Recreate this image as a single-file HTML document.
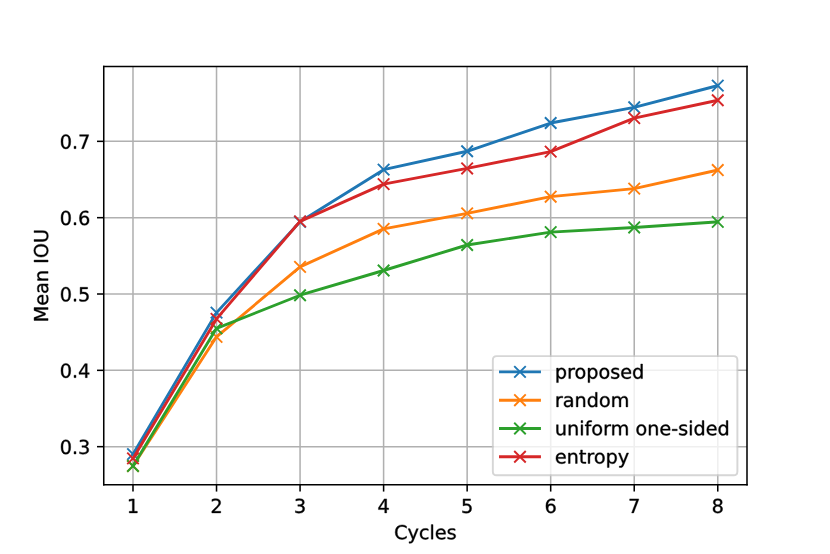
<!DOCTYPE html>
<html><head><meta charset="utf-8"><title>Mean IOU vs Cycles</title>
<style>html,body{margin:0;padding:0;background:#fff;overflow:hidden;font-family:"Liberation Sans",sans-serif}svg{display:block}g[id^="text_"]{stroke:#000;stroke-width:0.4px}
path[id^="DejaVuSans"]{vector-effect:non-scaling-stroke}
</style>
</head><body>
<svg width="830" height="554" viewBox="0 0 432 288.346988">
<defs>
<style type="text/css">*{stroke-linejoin: round; stroke-linecap: butt}</style>
</defs>
<g id="figure_1">
<g id="patch_1">
<path d="M 0 288.346988 L 432 288.346988 L 432 0 L 0 0 z
" style="fill: #ffffff"/>
</g>
<g id="axes_1">
<g id="patch_2">
<path d="M 54 252.355663 L 388.8 252.355663 L 388.8 34.586024 L 54 34.586024 z
" style="fill: #ffffff"/>
</g>
<g id="matplotlib.axis_1">
<g id="xtick_1">
<g id="line2d_1">
<path d="M 69.218182 252.355663 L 69.218182 34.586024 " clip-path="url(#pa75e40f9cf)" style="fill: none; stroke: #b0b0b0; stroke-width: 0.8; stroke-linecap: square"/>
</g>
<g id="line2d_2">
<defs>
<path id="m1504cfccaf" d="M 0 0 L 0 3.5 " style="stroke: #000000; stroke-width: 0.8"/>
</defs>
<g>
<use href="#m1504cfccaf" x="69.218182" y="252.355663" style="stroke: #000000; stroke-width: 0.8"/>
</g>
</g>
<g id="text_1">
<!-- 1 -->
<g transform="translate(66.036932 266.9541) scale(0.1 -0.1)">
<defs>
<path id="DejaVuSans-31" d="M 794 531 L 1825 531 L 1825 4091 L 703 3866 L 703 4441 L 1819 4666 L 2450 4666 L 2450 531 L 3481 531 L 3481 0 L 794 0 L 794 531 z
" transform="scale(0.015625)"/>
</defs>
<use href="#DejaVuSans-31"/>
</g>
</g>
</g>
<g id="xtick_2">
<g id="line2d_3">
<path d="M 112.698701 252.355663 L 112.698701 34.586024 " clip-path="url(#pa75e40f9cf)" style="fill: none; stroke: #b0b0b0; stroke-width: 0.8; stroke-linecap: square"/>
</g>
<g id="line2d_4">
<g>
<use href="#m1504cfccaf" x="112.698701" y="252.355663" style="stroke: #000000; stroke-width: 0.8"/>
</g>
</g>
<g id="text_2">
<!-- 2 -->
<g transform="translate(109.517451 266.9541) scale(0.1 -0.1)">
<defs>
<path id="DejaVuSans-32" d="M 1228 531 L 3431 531 L 3431 0 L 469 0 L 469 531 Q 828 903 1448 1529 Q 2069 2156 2228 2338 Q 2531 2678 2651 2914 Q 2772 3150 2772 3378 Q 2772 3750 2511 3984 Q 2250 4219 1831 4219 Q 1534 4219 1204 4116 Q 875 4013 500 3803 L 500 4441 Q 881 4594 1212 4672 Q 1544 4750 1819 4750 Q 2544 4750 2975 4387 Q 3406 4025 3406 3419 Q 3406 3131 3298 2873 Q 3191 2616 2906 2266 Q 2828 2175 2409 1742 Q 1991 1309 1228 531 z
" transform="scale(0.015625)"/>
</defs>
<use href="#DejaVuSans-32"/>
</g>
</g>
</g>
<g id="xtick_3">
<g id="line2d_5">
<path d="M 156.179221 252.355663 L 156.179221 34.586024 " clip-path="url(#pa75e40f9cf)" style="fill: none; stroke: #b0b0b0; stroke-width: 0.8; stroke-linecap: square"/>
</g>
<g id="line2d_6">
<g>
<use href="#m1504cfccaf" x="156.179221" y="252.355663" style="stroke: #000000; stroke-width: 0.8"/>
</g>
</g>
<g id="text_3">
<!-- 3 -->
<g transform="translate(152.997971 266.9541) scale(0.1 -0.1)">
<defs>
<path id="DejaVuSans-33" d="M 2597 2516 Q 3050 2419 3304 2112 Q 3559 1806 3559 1356 Q 3559 666 3084 287 Q 2609 -91 1734 -91 Q 1441 -91 1130 -33 Q 819 25 488 141 L 488 750 Q 750 597 1062 519 Q 1375 441 1716 441 Q 2309 441 2620 675 Q 2931 909 2931 1356 Q 2931 1769 2642 2001 Q 2353 2234 1838 2234 L 1294 2234 L 1294 2753 L 1863 2753 Q 2328 2753 2575 2939 Q 2822 3125 2822 3475 Q 2822 3834 2567 4026 Q 2313 4219 1838 4219 Q 1578 4219 1281 4162 Q 984 4106 628 3988 L 628 4550 Q 988 4650 1302 4700 Q 1616 4750 1894 4750 Q 2613 4750 3031 4423 Q 3450 4097 3450 3541 Q 3450 3153 3228 2886 Q 3006 2619 2597 2516 z
" transform="scale(0.015625)"/>
</defs>
<use href="#DejaVuSans-33"/>
</g>
</g>
</g>
<g id="xtick_4">
<g id="line2d_7">
<path d="M 199.65974 252.355663 L 199.65974 34.586024 " clip-path="url(#pa75e40f9cf)" style="fill: none; stroke: #b0b0b0; stroke-width: 0.8; stroke-linecap: square"/>
</g>
<g id="line2d_8">
<g>
<use href="#m1504cfccaf" x="199.65974" y="252.355663" style="stroke: #000000; stroke-width: 0.8"/>
</g>
</g>
<g id="text_4">
<!-- 4 -->
<g transform="translate(196.47849 266.9541) scale(0.1 -0.1)">
<defs>
<path id="DejaVuSans-34" d="M 2419 4116 L 825 1625 L 2419 1625 L 2419 4116 z
M 2253 4666 L 3047 4666 L 3047 1625 L 3713 1625 L 3713 1100 L 3047 1100 L 3047 0 L 2419 0 L 2419 1100 L 313 1100 L 313 1709 L 2253 4666 z
" transform="scale(0.015625)"/>
</defs>
<use href="#DejaVuSans-34"/>
</g>
</g>
</g>
<g id="xtick_5">
<g id="line2d_9">
<path d="M 243.14026 252.355663 L 243.14026 34.586024 " clip-path="url(#pa75e40f9cf)" style="fill: none; stroke: #b0b0b0; stroke-width: 0.8; stroke-linecap: square"/>
</g>
<g id="line2d_10">
<g>
<use href="#m1504cfccaf" x="243.14026" y="252.355663" style="stroke: #000000; stroke-width: 0.8"/>
</g>
</g>
<g id="text_5">
<!-- 5 -->
<g transform="translate(239.95901 266.9541) scale(0.1 -0.1)">
<defs>
<path id="DejaVuSans-35" d="M 691 4666 L 3169 4666 L 3169 4134 L 1269 4134 L 1269 2991 Q 1406 3038 1543 3061 Q 1681 3084 1819 3084 Q 2600 3084 3056 2656 Q 3513 2228 3513 1497 Q 3513 744 3044 326 Q 2575 -91 1722 -91 Q 1428 -91 1123 -41 Q 819 9 494 109 L 494 744 Q 775 591 1075 516 Q 1375 441 1709 441 Q 2250 441 2565 725 Q 2881 1009 2881 1497 Q 2881 1984 2565 2268 Q 2250 2553 1709 2553 Q 1456 2553 1204 2497 Q 953 2441 691 2322 L 691 4666 z
" transform="scale(0.015625)"/>
</defs>
<use href="#DejaVuSans-35"/>
</g>
</g>
</g>
<g id="xtick_6">
<g id="line2d_11">
<path d="M 286.620779 252.355663 L 286.620779 34.586024 " clip-path="url(#pa75e40f9cf)" style="fill: none; stroke: #b0b0b0; stroke-width: 0.8; stroke-linecap: square"/>
</g>
<g id="line2d_12">
<g>
<use href="#m1504cfccaf" x="286.620779" y="252.355663" style="stroke: #000000; stroke-width: 0.8"/>
</g>
</g>
<g id="text_6">
<!-- 6 -->
<g transform="translate(283.439529 266.9541) scale(0.1 -0.1)">
<defs>
<path id="DejaVuSans-36" d="M 2113 2584 Q 1688 2584 1439 2293 Q 1191 2003 1191 1497 Q 1191 994 1439 701 Q 1688 409 2113 409 Q 2538 409 2786 701 Q 3034 994 3034 1497 Q 3034 2003 2786 2293 Q 2538 2584 2113 2584 z
M 3366 4563 L 3366 3988 Q 3128 4100 2886 4159 Q 2644 4219 2406 4219 Q 1781 4219 1451 3797 Q 1122 3375 1075 2522 Q 1259 2794 1537 2939 Q 1816 3084 2150 3084 Q 2853 3084 3261 2657 Q 3669 2231 3669 1497 Q 3669 778 3244 343 Q 2819 -91 2113 -91 Q 1303 -91 875 529 Q 447 1150 447 2328 Q 447 3434 972 4092 Q 1497 4750 2381 4750 Q 2619 4750 2861 4703 Q 3103 4656 3366 4563 z
" transform="scale(0.015625)"/>
</defs>
<use href="#DejaVuSans-36"/>
</g>
</g>
</g>
<g id="xtick_7">
<g id="line2d_13">
<path d="M 330.101299 252.355663 L 330.101299 34.586024 " clip-path="url(#pa75e40f9cf)" style="fill: none; stroke: #b0b0b0; stroke-width: 0.8; stroke-linecap: square"/>
</g>
<g id="line2d_14">
<g>
<use href="#m1504cfccaf" x="330.101299" y="252.355663" style="stroke: #000000; stroke-width: 0.8"/>
</g>
</g>
<g id="text_7">
<!-- 7 -->
<g transform="translate(326.920049 266.9541) scale(0.1 -0.1)">
<defs>
<path id="DejaVuSans-37" d="M 525 4666 L 3525 4666 L 3525 4397 L 1831 0 L 1172 0 L 2766 4134 L 525 4134 L 525 4666 z
" transform="scale(0.015625)"/>
</defs>
<use href="#DejaVuSans-37"/>
</g>
</g>
</g>
<g id="xtick_8">
<g id="line2d_15">
<path d="M 373.581818 252.355663 L 373.581818 34.586024 " clip-path="url(#pa75e40f9cf)" style="fill: none; stroke: #b0b0b0; stroke-width: 0.8; stroke-linecap: square"/>
</g>
<g id="line2d_16">
<g>
<use href="#m1504cfccaf" x="373.581818" y="252.355663" style="stroke: #000000; stroke-width: 0.8"/>
</g>
</g>
<g id="text_8">
<!-- 8 -->
<g transform="translate(370.400568 266.9541) scale(0.1 -0.1)">
<defs>
<path id="DejaVuSans-38" d="M 2034 2216 Q 1584 2216 1326 1975 Q 1069 1734 1069 1313 Q 1069 891 1326 650 Q 1584 409 2034 409 Q 2484 409 2743 651 Q 3003 894 3003 1313 Q 3003 1734 2745 1975 Q 2488 2216 2034 2216 z
M 1403 2484 Q 997 2584 770 2862 Q 544 3141 544 3541 Q 544 4100 942 4425 Q 1341 4750 2034 4750 Q 2731 4750 3128 4425 Q 3525 4100 3525 3541 Q 3525 3141 3298 2862 Q 3072 2584 2669 2484 Q 3125 2378 3379 2068 Q 3634 1759 3634 1313 Q 3634 634 3220 271 Q 2806 -91 2034 -91 Q 1263 -91 848 271 Q 434 634 434 1313 Q 434 1759 690 2068 Q 947 2378 1403 2484 z
M 1172 3481 Q 1172 3119 1398 2916 Q 1625 2713 2034 2713 Q 2441 2713 2670 2916 Q 2900 3119 2900 3481 Q 2900 3844 2670 4047 Q 2441 4250 2034 4250 Q 1625 4250 1398 4047 Q 1172 3844 1172 3481 z
" transform="scale(0.015625)"/>
</defs>
<use href="#DejaVuSans-38"/>
</g>
</g>
</g>
<g id="text_9">
<!-- Cycles -->
<g transform="translate(205.129688 280.632225) scale(0.1 -0.1)">
<defs>
<path id="DejaVuSans-43" d="M 4122 4306 L 4122 3641 Q 3803 3938 3442 4084 Q 3081 4231 2675 4231 Q 1875 4231 1450 3742 Q 1025 3253 1025 2328 Q 1025 1406 1450 917 Q 1875 428 2675 428 Q 3081 428 3442 575 Q 3803 722 4122 1019 L 4122 359 Q 3791 134 3420 21 Q 3050 -91 2638 -91 Q 1578 -91 968 557 Q 359 1206 359 2328 Q 359 3453 968 4101 Q 1578 4750 2638 4750 Q 3056 4750 3426 4639 Q 3797 4528 4122 4306 z
" transform="scale(0.015625)"/>
<path id="DejaVuSans-79" d="M 2059 -325 Q 1816 -950 1584 -1140 Q 1353 -1331 966 -1331 L 506 -1331 L 506 -850 L 844 -850 Q 1081 -850 1212 -737 Q 1344 -625 1503 -206 L 1606 56 L 191 3500 L 800 3500 L 1894 763 L 2988 3500 L 3597 3500 L 2059 -325 z
" transform="scale(0.015625)"/>
<path id="DejaVuSans-63" d="M 3122 3366 L 3122 2828 Q 2878 2963 2633 3030 Q 2388 3097 2138 3097 Q 1578 3097 1268 2742 Q 959 2388 959 1747 Q 959 1106 1268 751 Q 1578 397 2138 397 Q 2388 397 2633 464 Q 2878 531 3122 666 L 3122 134 Q 2881 22 2623 -34 Q 2366 -91 2075 -91 Q 1284 -91 818 406 Q 353 903 353 1747 Q 353 2603 823 3093 Q 1294 3584 2113 3584 Q 2378 3584 2631 3529 Q 2884 3475 3122 3366 z
" transform="scale(0.015625)"/>
<path id="DejaVuSans-6c" d="M 603 4863 L 1178 4863 L 1178 0 L 603 0 L 603 4863 z
" transform="scale(0.015625)"/>
<path id="DejaVuSans-65" d="M 3597 1894 L 3597 1613 L 953 1613 Q 991 1019 1311 708 Q 1631 397 2203 397 Q 2534 397 2845 478 Q 3156 559 3463 722 L 3463 178 Q 3153 47 2828 -22 Q 2503 -91 2169 -91 Q 1331 -91 842 396 Q 353 884 353 1716 Q 353 2575 817 3079 Q 1281 3584 2069 3584 Q 2775 3584 3186 3129 Q 3597 2675 3597 1894 z
M 3022 2063 Q 3016 2534 2758 2815 Q 2500 3097 2075 3097 Q 1594 3097 1305 2825 Q 1016 2553 972 2059 L 3022 2063 z
" transform="scale(0.015625)"/>
<path id="DejaVuSans-73" d="M 2834 3397 L 2834 2853 Q 2591 2978 2328 3040 Q 2066 3103 1784 3103 Q 1356 3103 1142 2972 Q 928 2841 928 2578 Q 928 2378 1081 2264 Q 1234 2150 1697 2047 L 1894 2003 Q 2506 1872 2764 1633 Q 3022 1394 3022 966 Q 3022 478 2636 193 Q 2250 -91 1575 -91 Q 1294 -91 989 -36 Q 684 19 347 128 L 347 722 Q 666 556 975 473 Q 1284 391 1588 391 Q 1994 391 2212 530 Q 2431 669 2431 922 Q 2431 1156 2273 1281 Q 2116 1406 1581 1522 L 1381 1569 Q 847 1681 609 1914 Q 372 2147 372 2553 Q 372 3047 722 3315 Q 1072 3584 1716 3584 Q 2034 3584 2315 3537 Q 2597 3491 2834 3397 z
" transform="scale(0.015625)"/>
</defs>
<use href="#DejaVuSans-43"/>
<use href="#DejaVuSans-79" transform="translate(69.824219 0)"/>
<use href="#DejaVuSans-63" transform="translate(129.003906 0)"/>
<use href="#DejaVuSans-6c" transform="translate(183.984375 0)"/>
<use href="#DejaVuSans-65" transform="translate(211.767578 0)"/>
<use href="#DejaVuSans-73" transform="translate(273.291016 0)"/>
</g>
</g>
</g>
<g id="matplotlib.axis_2">
<g id="ytick_1">
<g id="line2d_17">
<path d="M 54 232.484923 L 388.8 232.484923 " clip-path="url(#pa75e40f9cf)" style="fill: none; stroke: #b0b0b0; stroke-width: 0.8; stroke-linecap: square"/>
</g>
<g id="line2d_18">
<defs>
<path id="m5d545ce8f8" d="M 0 0 L -3.5 0 " style="stroke: #000000; stroke-width: 0.8"/>
</defs>
<g>
<use href="#m5d545ce8f8" x="54" y="232.484923" style="stroke: #000000; stroke-width: 0.8"/>
</g>
</g>
<g id="text_10">
<!-- 0.3 -->
<g transform="translate(31.096875 236.284142) scale(0.1 -0.1)">
<defs>
<path id="DejaVuSans-30" d="M 2034 4250 Q 1547 4250 1301 3770 Q 1056 3291 1056 2328 Q 1056 1369 1301 889 Q 1547 409 2034 409 Q 2525 409 2770 889 Q 3016 1369 3016 2328 Q 3016 3291 2770 3770 Q 2525 4250 2034 4250 z
M 2034 4750 Q 2819 4750 3233 4129 Q 3647 3509 3647 2328 Q 3647 1150 3233 529 Q 2819 -91 2034 -91 Q 1250 -91 836 529 Q 422 1150 422 2328 Q 422 3509 836 4129 Q 1250 4750 2034 4750 z
" transform="scale(0.015625)"/>
<path id="DejaVuSans-2e" d="M 684 794 L 1344 794 L 1344 0 L 684 0 L 684 794 z
" transform="scale(0.015625)"/>
</defs>
<use href="#DejaVuSans-30"/>
<use href="#DejaVuSans-2e" transform="translate(63.623047 0)"/>
<use href="#DejaVuSans-33" transform="translate(95.410156 0)"/>
</g>
</g>
</g>
<g id="ytick_2">
<g id="line2d_19">
<path d="M 54 192.755363 L 388.8 192.755363 " clip-path="url(#pa75e40f9cf)" style="fill: none; stroke: #b0b0b0; stroke-width: 0.8; stroke-linecap: square"/>
</g>
<g id="line2d_20">
<g>
<use href="#m5d545ce8f8" x="54" y="192.755363" style="stroke: #000000; stroke-width: 0.8"/>
</g>
</g>
<g id="text_11">
<!-- 0.4 -->
<g transform="translate(31.096875 196.554582) scale(0.1 -0.1)">
<use href="#DejaVuSans-30"/>
<use href="#DejaVuSans-2e" transform="translate(63.623047 0)"/>
<use href="#DejaVuSans-34" transform="translate(95.410156 0)"/>
</g>
</g>
</g>
<g id="ytick_3">
<g id="line2d_21">
<path d="M 54 153.025803 L 388.8 153.025803 " clip-path="url(#pa75e40f9cf)" style="fill: none; stroke: #b0b0b0; stroke-width: 0.8; stroke-linecap: square"/>
</g>
<g id="line2d_22">
<g>
<use href="#m5d545ce8f8" x="54" y="153.025803" style="stroke: #000000; stroke-width: 0.8"/>
</g>
</g>
<g id="text_12">
<!-- 0.5 -->
<g transform="translate(31.096875 156.825021) scale(0.1 -0.1)">
<use href="#DejaVuSans-30"/>
<use href="#DejaVuSans-2e" transform="translate(63.623047 0)"/>
<use href="#DejaVuSans-35" transform="translate(95.410156 0)"/>
</g>
</g>
</g>
<g id="ytick_4">
<g id="line2d_23">
<path d="M 54 113.296242 L 388.8 113.296242 " clip-path="url(#pa75e40f9cf)" style="fill: none; stroke: #b0b0b0; stroke-width: 0.8; stroke-linecap: square"/>
</g>
<g id="line2d_24">
<g>
<use href="#m5d545ce8f8" x="54" y="113.296242" style="stroke: #000000; stroke-width: 0.8"/>
</g>
</g>
<g id="text_13">
<!-- 0.6 -->
<g transform="translate(31.096875 117.095461) scale(0.1 -0.1)">
<use href="#DejaVuSans-30"/>
<use href="#DejaVuSans-2e" transform="translate(63.623047 0)"/>
<use href="#DejaVuSans-36" transform="translate(95.410156 0)"/>
</g>
</g>
</g>
<g id="ytick_5">
<g id="line2d_25">
<path d="M 54 73.566682 L 388.8 73.566682 " clip-path="url(#pa75e40f9cf)" style="fill: none; stroke: #b0b0b0; stroke-width: 0.8; stroke-linecap: square"/>
</g>
<g id="line2d_26">
<g>
<use href="#m5d545ce8f8" x="54" y="73.566682" style="stroke: #000000; stroke-width: 0.8"/>
</g>
</g>
<g id="text_14">
<!-- 0.7 -->
<g transform="translate(31.096875 77.365901) scale(0.1 -0.1)">
<use href="#DejaVuSans-30"/>
<use href="#DejaVuSans-2e" transform="translate(63.623047 0)"/>
<use href="#DejaVuSans-37" transform="translate(95.410156 0)"/>
</g>
</g>
</g>
<g id="text_15">
<!-- Mean IOU -->
<g transform="translate(25.017187 167.753656) rotate(-90) scale(0.1 -0.1)">
<defs>
<path id="DejaVuSans-4d" d="M 628 4666 L 1569 4666 L 2759 1491 L 3956 4666 L 4897 4666 L 4897 0 L 4281 0 L 4281 4097 L 3078 897 L 2444 897 L 1241 4097 L 1241 0 L 628 0 L 628 4666 z
" transform="scale(0.015625)"/>
<path id="DejaVuSans-61" d="M 2194 1759 Q 1497 1759 1228 1600 Q 959 1441 959 1056 Q 959 750 1161 570 Q 1363 391 1709 391 Q 2188 391 2477 730 Q 2766 1069 2766 1631 L 2766 1759 L 2194 1759 z
M 3341 1997 L 3341 0 L 2766 0 L 2766 531 Q 2569 213 2275 61 Q 1981 -91 1556 -91 Q 1019 -91 701 211 Q 384 513 384 1019 Q 384 1609 779 1909 Q 1175 2209 1959 2209 L 2766 2209 L 2766 2266 Q 2766 2663 2505 2880 Q 2244 3097 1772 3097 Q 1472 3097 1187 3025 Q 903 2953 641 2809 L 641 3341 Q 956 3463 1253 3523 Q 1550 3584 1831 3584 Q 2591 3584 2966 3190 Q 3341 2797 3341 1997 z
" transform="scale(0.015625)"/>
<path id="DejaVuSans-6e" d="M 3513 2113 L 3513 0 L 2938 0 L 2938 2094 Q 2938 2591 2744 2837 Q 2550 3084 2163 3084 Q 1697 3084 1428 2787 Q 1159 2491 1159 1978 L 1159 0 L 581 0 L 581 3500 L 1159 3500 L 1159 2956 Q 1366 3272 1645 3428 Q 1925 3584 2291 3584 Q 2894 3584 3203 3211 Q 3513 2838 3513 2113 z
" transform="scale(0.015625)"/>
<path id="DejaVuSans-20" transform="scale(0.015625)"/>
<path id="DejaVuSans-49" d="M 628 4666 L 1259 4666 L 1259 0 L 628 0 L 628 4666 z
" transform="scale(0.015625)"/>
<path id="DejaVuSans-4f" d="M 2522 4238 Q 1834 4238 1429 3725 Q 1025 3213 1025 2328 Q 1025 1447 1429 934 Q 1834 422 2522 422 Q 3209 422 3611 934 Q 4013 1447 4013 2328 Q 4013 3213 3611 3725 Q 3209 4238 2522 4238 z
M 2522 4750 Q 3503 4750 4090 4092 Q 4678 3434 4678 2328 Q 4678 1225 4090 567 Q 3503 -91 2522 -91 Q 1538 -91 948 565 Q 359 1222 359 2328 Q 359 3434 948 4092 Q 1538 4750 2522 4750 z
" transform="scale(0.015625)"/>
<path id="DejaVuSans-55" d="M 556 4666 L 1191 4666 L 1191 1831 Q 1191 1081 1462 751 Q 1734 422 2344 422 Q 2950 422 3222 751 Q 3494 1081 3494 1831 L 3494 4666 L 4128 4666 L 4128 1753 Q 4128 841 3676 375 Q 3225 -91 2344 -91 Q 1459 -91 1007 375 Q 556 841 556 1753 L 556 4666 z
" transform="scale(0.015625)"/>
</defs>
<use href="#DejaVuSans-4d"/>
<use href="#DejaVuSans-65" transform="translate(86.279297 0)"/>
<use href="#DejaVuSans-61" transform="translate(147.802734 0)"/>
<use href="#DejaVuSans-6e" transform="translate(209.082031 0)"/>
<use href="#DejaVuSans-20" transform="translate(272.460938 0)"/>
<use href="#DejaVuSans-49" transform="translate(304.248047 0)"/>
<use href="#DejaVuSans-4f" transform="translate(333.740234 0)"/>
<use href="#DejaVuSans-55" transform="translate(412.451172 0)"/>
</g>
</g>
</g>
<g id="line2d_27">
<path d="M 69.218182 236.37842 L 112.698701 162.719815 L 156.179221 115.441639 L 199.65974 88.306349 L 243.14026 78.731525 L 286.620779 64.031588 L 330.101299 55.847298 L 373.581818 44.564103 " clip-path="url(#pa75e40f9cf)" style="fill: none; stroke: #1f77b4; stroke-width: 1.5; stroke-linecap: square"/>
<defs>
<path id="m3ab766a4a9" d="M -3 3 L 3 -3 M -3 -3 L 3 3 " style="stroke: #1f77b4"/>
</defs>
<g clip-path="url(#pa75e40f9cf)">
<use href="#m3ab766a4a9" x="69.218182" y="236.37842" style="fill: #1f77b4; stroke: #1f77b4"/>
<use href="#m3ab766a4a9" x="112.698701" y="162.719815" style="fill: #1f77b4; stroke: #1f77b4"/>
<use href="#m3ab766a4a9" x="156.179221" y="115.441639" style="fill: #1f77b4; stroke: #1f77b4"/>
<use href="#m3ab766a4a9" x="199.65974" y="88.306349" style="fill: #1f77b4; stroke: #1f77b4"/>
<use href="#m3ab766a4a9" x="243.14026" y="78.731525" style="fill: #1f77b4; stroke: #1f77b4"/>
<use href="#m3ab766a4a9" x="286.620779" y="64.031588" style="fill: #1f77b4; stroke: #1f77b4"/>
<use href="#m3ab766a4a9" x="330.101299" y="55.847298" style="fill: #1f77b4; stroke: #1f77b4"/>
<use href="#m3ab766a4a9" x="373.581818" y="44.564103" style="fill: #1f77b4; stroke: #1f77b4"/>
</g>
</g>
<g id="line2d_28">
<path d="M 69.218182 242.536502 L 112.698701 175.314086 L 156.179221 138.882079 L 199.65974 119.136488 L 243.14026 111.031657 L 286.620779 102.370613 L 330.101299 98.15928 L 373.581818 88.504997 " clip-path="url(#pa75e40f9cf)" style="fill: none; stroke: #ff7f0e; stroke-width: 1.5; stroke-linecap: square"/>
<defs>
<path id="m5c6e1385d8" d="M -3 3 L 3 -3 M -3 -3 L 3 3 " style="stroke: #ff7f0e"/>
</defs>
<g clip-path="url(#pa75e40f9cf)">
<use href="#m5c6e1385d8" x="69.218182" y="242.536502" style="fill: #ff7f0e; stroke: #ff7f0e"/>
<use href="#m5c6e1385d8" x="112.698701" y="175.314086" style="fill: #ff7f0e; stroke: #ff7f0e"/>
<use href="#m5c6e1385d8" x="156.179221" y="138.882079" style="fill: #ff7f0e; stroke: #ff7f0e"/>
<use href="#m5c6e1385d8" x="199.65974" y="119.136488" style="fill: #ff7f0e; stroke: #ff7f0e"/>
<use href="#m5c6e1385d8" x="243.14026" y="111.031657" style="fill: #ff7f0e; stroke: #ff7f0e"/>
<use href="#m5c6e1385d8" x="286.620779" y="102.370613" style="fill: #ff7f0e; stroke: #ff7f0e"/>
<use href="#m5c6e1385d8" x="330.101299" y="98.15928" style="fill: #ff7f0e; stroke: #ff7f0e"/>
<use href="#m5c6e1385d8" x="373.581818" y="88.504997" style="fill: #ff7f0e; stroke: #ff7f0e"/>
</g>
</g>
<g id="line2d_29">
<path d="M 69.218182 242.536502 L 112.698701 170.904105 L 156.179221 153.661476 L 199.65974 140.789098 L 243.14026 127.519425 L 286.620779 120.805129 L 330.101299 118.381626 L 373.581818 115.481368 " clip-path="url(#pa75e40f9cf)" style="fill: none; stroke: #2ca02c; stroke-width: 1.5; stroke-linecap: square"/>
<defs>
<path id="m6d0650be14" d="M -3 3 L 3 -3 M -3 -3 L 3 3 " style="stroke: #2ca02c"/>
</defs>
<g clip-path="url(#pa75e40f9cf)">
<use href="#m6d0650be14" x="69.218182" y="242.536502" style="fill: #2ca02c; stroke: #2ca02c"/>
<use href="#m6d0650be14" x="112.698701" y="170.904105" style="fill: #2ca02c; stroke: #2ca02c"/>
<use href="#m6d0650be14" x="156.179221" y="153.661476" style="fill: #2ca02c; stroke: #2ca02c"/>
<use href="#m6d0650be14" x="199.65974" y="140.789098" style="fill: #2ca02c; stroke: #2ca02c"/>
<use href="#m6d0650be14" x="243.14026" y="127.519425" style="fill: #2ca02c; stroke: #2ca02c"/>
<use href="#m6d0650be14" x="286.620779" y="120.805129" style="fill: #2ca02c; stroke: #2ca02c"/>
<use href="#m6d0650be14" x="330.101299" y="118.381626" style="fill: #2ca02c; stroke: #2ca02c"/>
<use href="#m6d0650be14" x="373.581818" y="115.481368" style="fill: #2ca02c; stroke: #2ca02c"/>
</g>
</g>
<g id="line2d_30">
<path d="M 69.218182 238.603275 L 112.698701 165.977639 L 156.179221 115.203261 L 199.65974 95.815236 L 243.14026 87.670676 L 286.620779 78.890443 L 330.101299 61.488896 L 373.581818 52.192179 " clip-path="url(#pa75e40f9cf)" style="fill: none; stroke: #d62728; stroke-width: 1.5; stroke-linecap: square"/>
<defs>
<path id="m3e8bb059f3" d="M -3 3 L 3 -3 M -3 -3 L 3 3 " style="stroke: #d62728"/>
</defs>
<g clip-path="url(#pa75e40f9cf)">
<use href="#m3e8bb059f3" x="69.218182" y="238.603275" style="fill: #d62728; stroke: #d62728"/>
<use href="#m3e8bb059f3" x="112.698701" y="165.977639" style="fill: #d62728; stroke: #d62728"/>
<use href="#m3e8bb059f3" x="156.179221" y="115.203261" style="fill: #d62728; stroke: #d62728"/>
<use href="#m3e8bb059f3" x="199.65974" y="95.815236" style="fill: #d62728; stroke: #d62728"/>
<use href="#m3e8bb059f3" x="243.14026" y="87.670676" style="fill: #d62728; stroke: #d62728"/>
<use href="#m3e8bb059f3" x="286.620779" y="78.890443" style="fill: #d62728; stroke: #d62728"/>
<use href="#m3e8bb059f3" x="330.101299" y="61.488896" style="fill: #d62728; stroke: #d62728"/>
<use href="#m3e8bb059f3" x="373.581818" y="52.192179" style="fill: #d62728; stroke: #d62728"/>
</g>
</g>
<g id="patch_3">
<path d="M 54 252.355663 L 54 34.586024 " style="fill: none; stroke: #000000; stroke-width: 0.8; stroke-linejoin: miter; stroke-linecap: square"/>
</g>
<g id="patch_4">
<path d="M 388.8 252.355663 L 388.8 34.586024 " style="fill: none; stroke: #000000; stroke-width: 0.8; stroke-linejoin: miter; stroke-linecap: square"/>
</g>
<g id="patch_5">
<path d="M 54 252.355663 L 388.8 252.355663 " style="fill: none; stroke: #000000; stroke-width: 0.8; stroke-linejoin: miter; stroke-linecap: square"/>
</g>
<g id="patch_6">
<path d="M 54 34.586024 L 388.8 34.586024 " style="fill: none; stroke: #000000; stroke-width: 0.8; stroke-linejoin: miter; stroke-linecap: square"/>
</g>
<g id="legend_1">
<g id="patch_7">
<path d="M 258.512172 247.355663 L 381.800000 247.355663 Q 383.800000 247.355663 383.800000 245.355663 L 383.800000 187.356898 Q 383.800000 185.356898 381.800000 185.356898 L 258.512172 185.356898 Q 256.512172 185.356898 256.512172 187.356898 L 256.512172 245.355663 Q 256.512172 247.355663 258.512172 247.355663 z
" style="fill: #ffffff; opacity: 0.8; stroke: #cccccc; stroke-linejoin: miter"/>
</g>
<g id="line2d_31">
<path d="M 260.486148 193.559431 L 270.642292 193.559431 L 280.798437 193.559431" style="fill: none; stroke: #1f77b4; stroke-width: 1.5; stroke-linecap: square"/>
<g>
<use href="#m3ab766a4a9" x="270.642292" y="193.559431" style="fill: #1f77b4; stroke: #1f77b4"/>
</g>
</g>
<g id="text_16">
<!-- proposed -->
<g transform="translate(288.798437 197.059431) scale(0.1 -0.1)">
<defs>
<path id="DejaVuSans-70" d="M 1159 525 L 1159 -1331 L 581 -1331 L 581 3500 L 1159 3500 L 1159 2969 Q 1341 3281 1617 3432 Q 1894 3584 2278 3584 Q 2916 3584 3314 3078 Q 3713 2572 3713 1747 Q 3713 922 3314 415 Q 2916 -91 2278 -91 Q 1894 -91 1617 61 Q 1341 213 1159 525 z
M 3116 1747 Q 3116 2381 2855 2742 Q 2594 3103 2138 3103 Q 1681 3103 1420 2742 Q 1159 2381 1159 1747 Q 1159 1113 1420 752 Q 1681 391 2138 391 Q 2594 391 2855 752 Q 3116 1113 3116 1747 z
" transform="scale(0.015625)"/>
<path id="DejaVuSans-72" d="M 2631 2963 Q 2534 3019 2420 3045 Q 2306 3072 2169 3072 Q 1681 3072 1420 2755 Q 1159 2438 1159 1844 L 1159 0 L 581 0 L 581 3500 L 1159 3500 L 1159 2956 Q 1341 3275 1631 3429 Q 1922 3584 2338 3584 Q 2397 3584 2469 3576 Q 2541 3569 2628 3553 L 2631 2963 z
" transform="scale(0.015625)"/>
<path id="DejaVuSans-6f" d="M 1959 3097 Q 1497 3097 1228 2736 Q 959 2375 959 1747 Q 959 1119 1226 758 Q 1494 397 1959 397 Q 2419 397 2687 759 Q 2956 1122 2956 1747 Q 2956 2369 2687 2733 Q 2419 3097 1959 3097 z
M 1959 3584 Q 2709 3584 3137 3096 Q 3566 2609 3566 1747 Q 3566 888 3137 398 Q 2709 -91 1959 -91 Q 1206 -91 779 398 Q 353 888 353 1747 Q 353 2609 779 3096 Q 1206 3584 1959 3584 z
" transform="scale(0.015625)"/>
<path id="DejaVuSans-64" d="M 2906 2969 L 2906 4863 L 3481 4863 L 3481 0 L 2906 0 L 2906 525 Q 2725 213 2448 61 Q 2172 -91 1784 -91 Q 1150 -91 751 415 Q 353 922 353 1747 Q 353 2572 751 3078 Q 1150 3584 1784 3584 Q 2172 3584 2448 3432 Q 2725 3281 2906 2969 z
M 947 1747 Q 947 1113 1208 752 Q 1469 391 1925 391 Q 2381 391 2643 752 Q 2906 1113 2906 1747 Q 2906 2381 2643 2742 Q 2381 3103 1925 3103 Q 1469 3103 1208 2742 Q 947 2381 947 1747 z
" transform="scale(0.015625)"/>
</defs>
<use href="#DejaVuSans-70"/>
<use href="#DejaVuSans-72" transform="translate(63.476562 0)"/>
<use href="#DejaVuSans-6f" transform="translate(102.339844 0)"/>
<use href="#DejaVuSans-70" transform="translate(163.521484 0)"/>
<use href="#DejaVuSans-6f" transform="translate(226.998047 0)"/>
<use href="#DejaVuSans-73" transform="translate(288.179688 0)"/>
<use href="#DejaVuSans-65" transform="translate(340.279297 0)"/>
<use href="#DejaVuSans-64" transform="translate(401.802734 0)"/>
</g>
</g>
<g id="line2d_32">
<path d="M 260.486148 208.289605 L 270.642292 208.289605 L 280.798437 208.289605" style="fill: none; stroke: #ff7f0e; stroke-width: 1.5; stroke-linecap: square"/>
<g>
<use href="#m5c6e1385d8" x="270.642292" y="208.289605" style="fill: #ff7f0e; stroke: #ff7f0e"/>
</g>
</g>
<g id="text_17">
<!-- random -->
<g transform="translate(288.798437 211.789605) scale(0.1 -0.1)">
<defs>
<path id="DejaVuSans-6d" d="M 3328 2828 Q 3544 3216 3844 3400 Q 4144 3584 4550 3584 Q 5097 3584 5394 3201 Q 5691 2819 5691 2113 L 5691 0 L 5113 0 L 5113 2094 Q 5113 2597 4934 2840 Q 4756 3084 4391 3084 Q 3944 3084 3684 2787 Q 3425 2491 3425 1978 L 3425 0 L 2847 0 L 2847 2094 Q 2847 2600 2669 2842 Q 2491 3084 2119 3084 Q 1678 3084 1418 2786 Q 1159 2488 1159 1978 L 1159 0 L 581 0 L 581 3500 L 1159 3500 L 1159 2956 Q 1356 3278 1631 3431 Q 1906 3584 2284 3584 Q 2666 3584 2933 3390 Q 3200 3197 3328 2828 z
" transform="scale(0.015625)"/>
</defs>
<use href="#DejaVuSans-72"/>
<use href="#DejaVuSans-61" transform="translate(41.113281 0)"/>
<use href="#DejaVuSans-6e" transform="translate(102.392578 0)"/>
<use href="#DejaVuSans-64" transform="translate(165.771484 0)"/>
<use href="#DejaVuSans-6f" transform="translate(229.248047 0)"/>
<use href="#DejaVuSans-6d" transform="translate(290.429688 0)"/>
</g>
</g>
<g id="line2d_33">
<path d="M 260.486148 223.019778 L 270.642292 223.019778 L 280.798437 223.019778" style="fill: none; stroke: #2ca02c; stroke-width: 1.5; stroke-linecap: square"/>
<g>
<use href="#m6d0650be14" x="270.642292" y="223.019778" style="fill: #2ca02c; stroke: #2ca02c"/>
</g>
</g>
<g id="text_18">
<!-- uniform one-sided -->
<g transform="translate(288.798437 226.519778) scale(0.1 -0.1)">
<defs>
<path id="DejaVuSans-75" d="M 544 1381 L 544 3500 L 1119 3500 L 1119 1403 Q 1119 906 1312 657 Q 1506 409 1894 409 Q 2359 409 2629 706 Q 2900 1003 2900 1516 L 2900 3500 L 3475 3500 L 3475 0 L 2900 0 L 2900 538 Q 2691 219 2414 64 Q 2138 -91 1772 -91 Q 1169 -91 856 284 Q 544 659 544 1381 z
M 1991 3584 L 1991 3584 z
" transform="scale(0.015625)"/>
<path id="DejaVuSans-69" d="M 603 3500 L 1178 3500 L 1178 0 L 603 0 L 603 3500 z
M 603 4863 L 1178 4863 L 1178 4134 L 603 4134 L 603 4863 z
" transform="scale(0.015625)"/>
<path id="DejaVuSans-66" d="M 2375 4863 L 2375 4384 L 1825 4384 Q 1516 4384 1395 4259 Q 1275 4134 1275 3809 L 1275 3500 L 2222 3500 L 2222 3053 L 1275 3053 L 1275 0 L 697 0 L 697 3053 L 147 3053 L 147 3500 L 697 3500 L 697 3744 Q 697 4328 969 4595 Q 1241 4863 1831 4863 L 2375 4863 z
" transform="scale(0.015625)"/>
<path id="DejaVuSans-2d" d="M 313 2009 L 1997 2009 L 1997 1497 L 313 1497 L 313 2009 z
" transform="scale(0.015625)"/>
</defs>
<use href="#DejaVuSans-75"/>
<use href="#DejaVuSans-6e" transform="translate(63.378906 0)"/>
<use href="#DejaVuSans-69" transform="translate(126.757812 0)"/>
<use href="#DejaVuSans-66" transform="translate(154.541016 0)"/>
<use href="#DejaVuSans-6f" transform="translate(189.746094 0)"/>
<use href="#DejaVuSans-72" transform="translate(250.927734 0)"/>
<use href="#DejaVuSans-6d" transform="translate(290.291016 0)"/>
<use href="#DejaVuSans-20" transform="translate(387.703125 0)"/>
<use href="#DejaVuSans-6f" transform="translate(419.490234 0)"/>
<use href="#DejaVuSans-6e" transform="translate(480.671875 0)"/>
<use href="#DejaVuSans-65" transform="translate(544.050781 0)"/>
<use href="#DejaVuSans-2d" transform="translate(605.574219 0)"/>
<use href="#DejaVuSans-73" transform="translate(641.658203 0)"/>
<use href="#DejaVuSans-69" transform="translate(693.757812 0)"/>
<use href="#DejaVuSans-64" transform="translate(721.541016 0)"/>
<use href="#DejaVuSans-65" transform="translate(785.017578 0)"/>
<use href="#DejaVuSans-64" transform="translate(846.541016 0)"/>
</g>
</g>
<g id="line2d_34">
<path d="M 260.486148 237.723927 L 270.642292 237.723927 L 280.798437 237.723927" style="fill: none; stroke: #d62728; stroke-width: 1.5; stroke-linecap: square"/>
<g>
<use href="#m3e8bb059f3" x="270.642292" y="237.723927" style="fill: #d62728; stroke: #d62728"/>
</g>
</g>
<g id="text_19">
<!-- entropy -->
<g transform="translate(288.798437 241.223927) scale(0.1 -0.1)">
<defs>
<path id="DejaVuSans-74" d="M 1172 4494 L 1172 3500 L 2356 3500 L 2356 3053 L 1172 3053 L 1172 1153 Q 1172 725 1289 603 Q 1406 481 1766 481 L 2356 481 L 2356 0 L 1766 0 Q 1100 0 847 248 Q 594 497 594 1153 L 594 3053 L 172 3053 L 172 3500 L 594 3500 L 594 4494 L 1172 4494 z
" transform="scale(0.015625)"/>
</defs>
<use href="#DejaVuSans-65"/>
<use href="#DejaVuSans-6e" transform="translate(61.523438 0)"/>
<use href="#DejaVuSans-74" transform="translate(124.902344 0)"/>
<use href="#DejaVuSans-72" transform="translate(164.111328 0)"/>
<use href="#DejaVuSans-6f" transform="translate(202.974609 0)"/>
<use href="#DejaVuSans-70" transform="translate(264.15625 0)"/>
<use href="#DejaVuSans-79" transform="translate(327.632812 0)"/>
</g>
</g>
</g>
</g>
</g>
<defs>
<clipPath id="pa75e40f9cf">
<rect x="54" y="34.586024" width="334.8" height="217.769639"/>
</clipPath>
</defs>
</svg>

</body></html>
